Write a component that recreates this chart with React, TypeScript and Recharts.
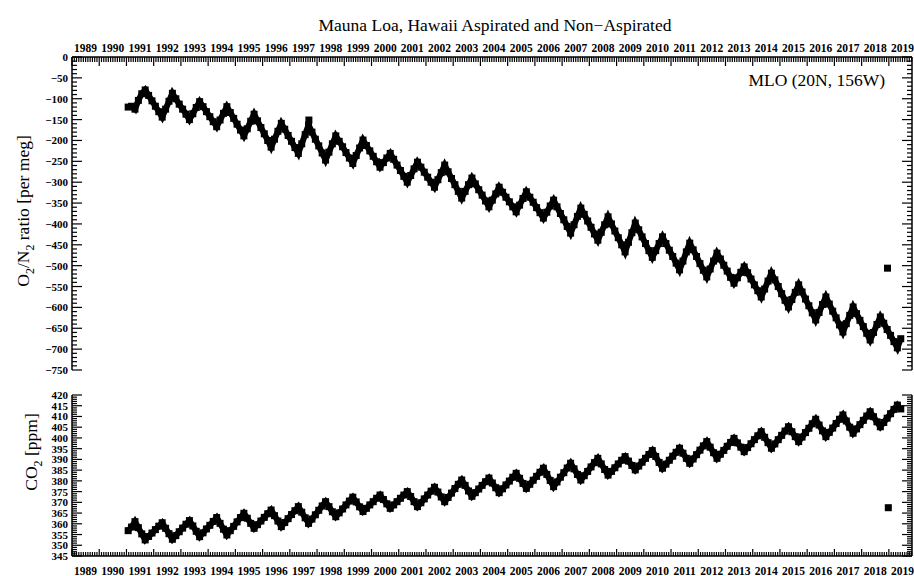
import { ScatterChart, Scatter, XAxis, YAxis } from 'recharts';

// flask samples, 8 per year starting 1991.0
const SAMPLE_START = 1991;
const SAMPLES_PER_YEAR = 8;

const o2Values = [
  -120, -118, -125, -104, -88, -79, -92, -105,
  -118, -131, -144, -125, -106, -87, -100, -113,
  -125, -137, -150, -136, -121, -107, -119, -131,
  -143, -155, -167, -151, -135, -119, -133, -147,
  -161, -175, -189, -172, -154, -137, -153, -169,
  -184, -200, -216, -197, -178, -159, -173, -188,
  -202, -217, -231, -208, -186, -163, -180, -197,
  -213, -230, -247, -228, -208, -189, -202, -215,
  -229, -242, -255, -236, -218, -199, -212, -225,
  -238, -251, -264, -253, -242, -231, -245, -259,
  -272, -286, -300, -284, -268, -252, -264, -276,
  -288, -300, -312, -294, -277, -259, -275, -291,
  -306, -322, -338, -322, -306, -290, -304, -318,
  -331, -345, -359, -343, -328, -312, -324, -336,
  -347, -359, -371, -355, -339, -323, -336, -348,
  -361, -373, -386, -372, -357, -343, -359, -375,
  -390, -406, -422, -402, -382, -362, -377, -393,
  -408, -424, -439, -420, -402, -383, -400, -417,
  -433, -450, -467, -444, -421, -398, -414, -431,
  -447, -464, -480, -464, -447, -431, -447, -463,
  -478, -494, -510, -489, -467, -446, -462, -478,
  -495, -511, -527, -508, -489, -470, -484, -499,
  -513, -528, -542, -529, -516, -503, -517, -532,
  -546, -560, -575, -556, -537, -518, -534, -550,
  -567, -583, -599, -581, -564, -546, -563, -580,
  -596, -613, -630, -612, -593, -575, -592, -609,
  -625, -642, -659, -639, -619, -599, -615, -631,
  -646, -662, -678, -660, -641, -623, -638, -653,
  -667, -682, -697, -675,
];

const co2Values = [
  356.8, 358.5, 361.0, 358.2, 355.3, 352.5, 354.1, 355.7,
  357.3, 358.9, 360.5, 357.9, 355.4, 352.8, 354.5, 356.3,
  358.0, 359.8, 361.5, 359.0, 356.5, 354.0, 355.8, 357.6,
  359.3, 361.1, 362.9, 360.2, 357.5, 354.8, 356.8, 358.8,
  360.9, 362.9, 364.9, 362.6, 360.2, 357.9, 359.6, 361.3,
  363.0, 364.7, 366.4, 363.8, 361.3, 358.7, 360.6, 362.4,
  364.3, 366.1, 368.0, 365.4, 362.8, 360.2, 362.2, 364.2,
  366.3, 368.3, 370.3, 368.0, 365.6, 363.3, 365.1, 366.9,
  368.8, 370.6, 372.4, 370.2, 367.9, 365.7, 367.2, 368.8,
  370.3, 371.9, 373.4, 371.3, 369.3, 367.2, 368.8, 370.3,
  371.9, 373.4, 375.0, 372.7, 370.3, 368.0, 369.8, 371.6,
  373.4, 375.2, 377.0, 374.8, 372.5, 370.3, 372.3, 374.3,
  376.4, 378.4, 380.4, 377.9, 375.3, 372.8, 374.5, 376.2,
  377.9, 379.6, 381.3, 379.0, 376.8, 374.5, 376.3, 378.1,
  379.9, 381.7, 383.5, 381.2, 378.8, 376.5, 378.4, 380.3,
  382.1, 384.0, 385.9, 383.0, 380.2, 377.3, 379.5, 381.7,
  383.8, 386.0, 388.2, 385.6, 383.0, 380.4, 382.4, 384.4,
  386.5, 388.5, 390.5, 387.9, 385.3, 382.7, 384.4, 386.1,
  387.9, 389.6, 391.3, 389.2, 387.2, 385.1, 386.9, 388.7,
  390.5, 392.3, 394.1, 391.4, 388.6, 385.9, 387.8, 389.6,
  391.5, 393.3, 395.2, 392.9, 390.5, 388.2, 390.2, 392.2,
  394.3, 396.3, 398.3, 395.7, 393.1, 390.5, 392.4, 394.2,
  396.1, 397.9, 399.8, 397.7, 395.7, 393.6, 395.5, 397.3,
  399.2, 401.0, 402.9, 400.3, 397.8, 395.2, 397.2, 399.2,
  401.2, 403.2, 405.2, 402.9, 400.6, 398.3, 400.4, 402.5,
  404.5, 406.6, 408.7, 406.0, 403.3, 400.6, 402.6, 404.6,
  406.7, 408.7, 410.7, 407.9, 405.0, 402.2, 404.2, 406.2,
  408.2, 410.2, 412.2, 409.9, 407.5, 405.2, 407.2, 409.2,
  411.3, 413.3, 415.3, 413.5,
];

// stray flasks
const o2OutlierYears = [1997.7, 2018.95];
const o2OutlierValues = [-151, -506];
const co2OutlierYears = [2018.98];
const co2OutlierValues = [367.5];

const yearLabels = [
  1989, 1990, 1991, 1992, 1993, 1994, 1995, 1996, 1997, 1998, 1999, 2000, 2001, 2002, 2003,
  2004, 2005, 2006, 2007, 2008, 2009, 2010, 2011, 2012, 2013, 2014, 2015, 2016, 2017, 2018, 2019,
];
const o2Labels = [0, -50, -100, -150, -200, -250, -300, -350, -400, -450, -500, -550, -600, -650, -700, -750];
const co2Labels = [345, 350, 355, 360, 365, 370, 375, 380, 385, 390, 395, 400, 405, 410, 415, 420];

const X_DOMAIN: [number, number] = [1989, 2019.85];
const FONT = '"Liberation Serif", "Times New Roman", serif';

// monthly minor ticks on the time axis
const xTicks: number[] = [];
yearLabels.forEach((yr) => {
  for (let m = 0; m < 12; m++) {
    const t = yr + m / 12;
    if (t <= X_DOMAIN[1]) xTicks.push(t);
  }
});

// minor ticks every 10 per meg / 1 ppm between the labelled ones
const o2Ticks: number[] = [];
for (let v = o2Labels[o2Labels.length - 1]; v <= o2Labels[0]; v += 10) o2Ticks.push(v);
const co2Ticks: number[] = [];
for (let v = co2Labels[0]; v <= co2Labels[co2Labels.length - 1]; v += 1) co2Ticks.push(v);

const toPoints = (vals: number[]) =>
  vals.map((v, i) => ({ x: SAMPLE_START + (i + 0.5) / SAMPLES_PER_YEAR, y: v }));

const o2Data = toPoints(o2Values);
const co2Data = toPoints(co2Values);
const o2Outliers = o2OutlierYears.map((x, i) => ({ x, y: o2OutlierValues[i] }));
const co2Outliers = co2OutlierYears.map((x, i) => ({ x, y: co2OutlierValues[i] }));

function Square(props: any) {
  const { cx, cy } = props;
  if (cx == null || cy == null) return null;
  return <rect x={cx - 3.5} y={cy - 3.5} width={7} height={7} fill="#000" />;
}

function fmt(v: number) {
  return v < 0 ? '\u2212' + Math.abs(v) : String(v);
}

function YearTick(props: any) {
  const { x, y, payload, side, major, minor } = props;
  const v = payload.value as number;
  const yr = Math.floor(v + 1e-6);
  const m = Math.round((v - yr) * 12) % 12;
  const dir = side === 'top' ? 1 : -1;
  const len = m === 0 ? major : minor;
  return (
    <g>
      <line x1={x} x2={x} y1={y} y2={y + dir * len} stroke="#000" strokeWidth={1.2} />
      {m === 6 && (
        <text
          x={x}
          y={side === 'top' ? y - 5 : y + 19}
          textAnchor="middle"
          style={{ fontFamily: FONT }}
          fontWeight="bold"
          fontSize={11.5}
          fill="#000"
        >
          {yr}
        </text>
      )}
    </g>
  );
}

function ValueTick(props: any) {
  const { x, y, payload, side, step } = props;
  const v = payload.value as number;
  const isMajor = v % step === 0;
  const dir = side === 'left' ? 1 : -1;
  const len = isMajor ? 10 : 5;
  return (
    <g>
      <line x1={x} x2={x + dir * len} y1={y} y2={y} stroke="#000" strokeWidth={1.2} />
      {isMajor && side === 'left' && (
        <text
          x={x - 4}
          y={y}
          dy={4}
          textAnchor="end"
          style={{ fontFamily: FONT }}
          fontWeight="bold"
          fontSize={11}
          fill="#000"
        >
          {fmt(v)}
        </text>
      )}
    </g>
  );
}

const axisLine = { stroke: '#000', strokeWidth: 1.5 };
const bandLine = { stroke: '#000', strokeWidth: 6 };

export default function App() {
  return (
    <div style={{ position: 'absolute', left: 0, top: 0, width: 914, height: 576, background: '#fff' }}>
      <div style={{ position: 'absolute', left: 0, top: 0 }}>
        <ScatterChart width={914} height={380} margin={{ top: 0, right: 0, bottom: 10, left: 0 }}>
          <XAxis
            dataKey="x"
            type="number"
            orientation="top"
            height={57}
            domain={X_DOMAIN}
            allowDataOverflow
            ticks={xTicks}
            interval={0}
            tickSize={0}
            tickMargin={0}
            tickLine={false}
            axisLine={axisLine}
            tick={(p: any) => <YearTick {...p} side="top" major={9} minor={5} />}
          />
          <YAxis
            yAxisId="left"
            dataKey="y"
            type="number"
            width={72}
            domain={[-750, 0]}
            allowDataOverflow
            ticks={o2Ticks}
            interval={0}
            tickSize={0}
            tickMargin={0}
            tickLine={false}
            axisLine={axisLine}
            tick={(p: any) => <ValueTick {...p} side="left" step={50} />}
          />
          <YAxis
            yAxisId="right"
            orientation="right"
            dataKey="y"
            type="number"
            width={2}
            domain={[-750, 0]}
            allowDataOverflow
            ticks={o2Ticks}
            interval={0}
            tickSize={0}
            tickMargin={0}
            tickLine={false}
            axisLine={axisLine}
            tick={(p: any) => <ValueTick {...p} side="right" step={50} />}
          />
          <Scatter yAxisId="left" data={o2Data} line={bandLine} shape={Square} isAnimationActive={false} />
          <Scatter yAxisId="left" data={o2Outliers} shape={Square} isAnimationActive={false} />
          <Scatter yAxisId="right" data={[]} isAnimationActive={false} />
        </ScatterChart>
      </div>
      <div style={{ position: 'absolute', left: 0, top: 380 }}>
        <ScatterChart width={914} height={196} margin={{ top: 15, right: 0, bottom: 0, left: 0 }}>
          <XAxis
            dataKey="x"
            type="number"
            orientation="bottom"
            height={20}
            domain={X_DOMAIN}
            allowDataOverflow
            ticks={xTicks}
            interval={0}
            tickSize={0}
            tickMargin={0}
            tickLine={false}
            axisLine={axisLine}
            tick={(p: any) => <YearTick {...p} side="bottom" major={7} minor={4} />}
          />
          <YAxis
            yAxisId="left"
            dataKey="y"
            type="number"
            width={72}
            domain={[345, 420]}
            allowDataOverflow
            ticks={co2Ticks}
            interval={0}
            tickSize={0}
            tickMargin={0}
            tickLine={false}
            axisLine={axisLine}
            tick={(p: any) => <ValueTick {...p} side="left" step={5} />}
          />
          <YAxis
            yAxisId="right"
            orientation="right"
            dataKey="y"
            type="number"
            width={2}
            domain={[345, 420]}
            allowDataOverflow
            ticks={co2Ticks}
            interval={0}
            tickSize={0}
            tickMargin={0}
            tickLine={false}
            axisLine={axisLine}
            tick={(p: any) => <ValueTick {...p} side="right" step={5} />}
          />
          <Scatter yAxisId="left" data={co2Data} line={bandLine} shape={Square} isAnimationActive={false} />
          <Scatter yAxisId="left" data={co2Outliers} shape={Square} isAnimationActive={false} />
          <Scatter yAxisId="right" data={[]} isAnimationActive={false} />
        </ScatterChart>
      </div>
      <svg
        width={914}
        height={576}
        style={{ position: 'absolute', left: 0, top: 0, pointerEvents: 'none', fontFamily: FONT }}
      >
        <text x={495} y={31} textAnchor="middle" fontSize={17.5} fill="#000">
          Mauna Loa, Hawaii Aspirated and Non{'\u2212'}Aspirated
        </text>
        <text x={885} y={86} textAnchor="end" fontSize={17.5} fill="#000">
          MLO (20N, 156W)
        </text>
        <text transform="translate(29,211) rotate(-90)" textAnchor="middle" fontSize={17.5} fill="#000">
          O<tspan fontSize={12} dy={5}>2</tspan>
          <tspan dy={-5}>/N</tspan>
          <tspan fontSize={12} dy={5}>2</tspan>
          <tspan dy={-5}> ratio [per meg]</tspan>
        </text>
        <text transform="translate(37,452) rotate(-90)" textAnchor="middle" fontSize={17.5} fill="#000">
          CO<tspan fontSize={12} dy={5}>2</tspan>
          <tspan dy={-5}> [ppm]</tspan>
        </text>
      </svg>
    </div>
  );
}
